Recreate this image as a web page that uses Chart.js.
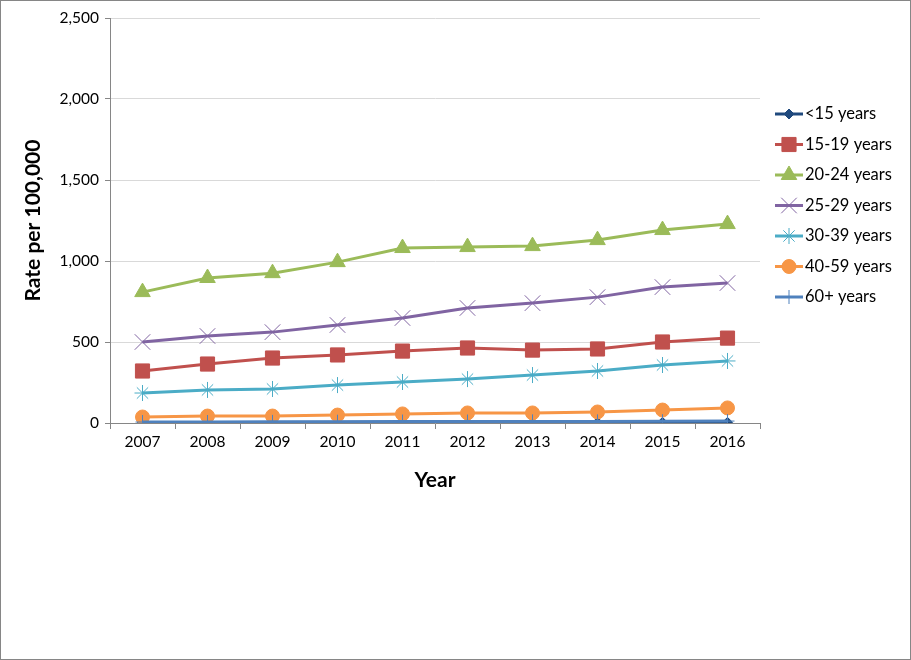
<!DOCTYPE html>
<html>
<head>
<meta charset="utf-8">
<script src="https://cdn.jsdelivr.net/npm/chart.js@4/dist/chart.umd.min.js"></script>
<style>
  html, body { margin: 0; padding: 0; background: #fff; }
  #wrap { width: 911px; height: 660px; }
</style>
</head>
<body>
<div id="wrap"><canvas id="chart"></canvas></div>
<script>
const years = ['2007', '2008', '2009', '2010', '2011', '2012', '2013', '2014', '2015', '2016'];

const under15 = [3, 3, 3, 4, 4, 4, 4, 4, 4, 4];
const age15to19 = [321, 364, 401, 420, 444, 463, 450, 457, 500, 524];
const age20to24 = [808, 895, 925, 993, 1080, 1086, 1092, 1129, 1191, 1228];
const age25to29 = [500, 537, 561, 605, 648, 710, 740, 777, 839, 864];
const age30to39 = [185, 204, 210, 234, 253, 271, 296, 321, 358, 383];
const age40to59 = [37, 43, 43, 49, 56, 62, 62, 68, 80, 93];
const age60plus = [6, 6, 7, 8, 9, 9, 10, 10, 11, 12];

const FONT = 'Lato, "Open Sans", sans-serif';

let seriesCount = 0;
function series(label, data, color, style, radius) {
    seriesCount++;
    return {
        label: label,
        data: data,
        borderColor: color,
        backgroundColor: color,
        borderWidth: 3,
        pointStyle: style,
        pointRadius: radius,
        pointBorderWidth: 1,
        pointBackgroundColor: color,
        pointBorderColor: color,
        tension: 0,
        order: 10 - seriesCount,   // later series on top, like Excel
    };
}

// legend drawn by hand so each entry shows line + marker like the original
const sideLegend = {
    id: 'sideLegend',
    afterDraw(chart) {
        let ctx = chart.ctx;
        ctx.save();
        chart.data.datasets.forEach((ds, i) => {
            let y = 114 + i * 30.5;
            ctx.strokeStyle = ds.borderColor;
            ctx.lineWidth = 3;
            ctx.beginPath();
            ctx.moveTo(775, y);
            ctx.lineTo(803, y);
            ctx.stroke();
            ctx.fillStyle = ds.pointBackgroundColor;
            ctx.strokeStyle = ds.pointBorderColor;
            ctx.lineWidth = ds.pointBorderWidth;
            Chart.helpers.drawPoint(ctx, {
                pointStyle: ds.pointStyle,
                radius: ds.pointRadius,
                borderWidth: ds.pointBorderWidth,
                rotation: 0,
            }, 789, y);
            ctx.fillStyle = '#000';
            ctx.font = '16.5px ' + FONT;
            ctx.textBaseline = 'middle';
            ctx.textAlign = 'left';
            ctx.fillText(ds.label, 805, y);
        });
        ctx.strokeStyle = '#868686';
        ctx.lineWidth = 1;
        ctx.strokeRect(0.5, 0.5, chart.width - 1, chart.height - 1);
        ctx.restore();
    }
};

new Chart(document.getElementById('chart'), {
    type: 'line',
    data: {
        labels: years,
        datasets: [
            series('<15 years', under15, '#1F497D', 'rectRot', 5),
            series('15-19 years', age15to19, '#C0504D', 'rect', 10),
            series('20-24 years', age20to24, '#9BBB59', 'triangle', 9),
            series('25-29 years', age25to29, '#8064A2', 'crossRot', 11),
            series('30-39 years', age30to39, '#4BACC6', 'star', 8),
            series('40-59 years', age40to59, '#F79646', 'circle', 7),
            series('60+ years', age60plus, '#4F81BD', 'cross', 7),
        ],
    },
    options: {
        responsive: true,
        maintainAspectRatio: false,
        animation: false,
        layout: {
            padding: { left: 0, right: 151, top: 18, bottom: 163 },
        },
        plugins: {
            legend: { display: false },
            tooltip: { enabled: false },
        },
        scales: {
            x: {
                offset: true,
                grid: {
                    offset: true,
                    drawOnChartArea: false,
                    drawTicks: true,
                    tickLength: 6,
                    color: '#868686',
                },
                border: { color: '#868686' },
                ticks: {
                    color: '#000',
                    font: { family: FONT, size: 15.5 },
                    padding: 4,
                    maxRotation: 0,
                },
                title: {
                    display: true,
                    text: 'Year',
                    color: '#000',
                    font: { family: FONT, size: 21, weight: 'bold' },
                    padding: { top: 6 },
                },
                afterFit(axis) { axis.height = 74; },
            },
            y: {
                min: 0,
                max: 2500,
                ticks: {
                    stepSize: 500,
                    color: '#000',
                    font: { family: FONT, size: 15.5 },
                    padding: 6,
                    callback: v => v.toLocaleString('en-US'),
                },
                grid: {
                    color: '#D9D9D9',
                    tickColor: '#868686',
                    tickLength: 5,
                },
                border: { color: '#868686' },
                title: {
                    display: true,
                    text: 'Rate per 100,000',
                    color: '#000',
                    font: { family: FONT, size: 21, weight: 'bold' },
                    padding: { top: 21, bottom: 0 },
                },
                afterFit(axis) { axis.width = 110; },
            },
        },
    },
    plugins: [sideLegend],
});
</script>
</body>
</html>
